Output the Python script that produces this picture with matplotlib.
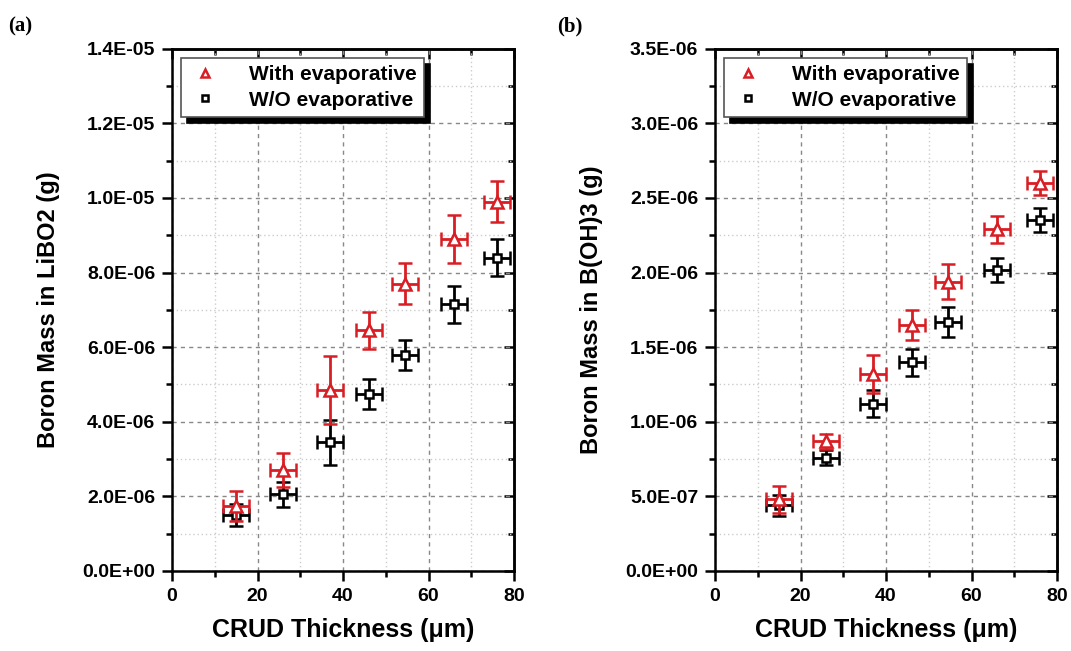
import numpy as np
import matplotlib
matplotlib.use("Agg")
import matplotlib.pyplot as plt
from matplotlib.lines import Line2D
from matplotlib.ticker import MultipleLocator, FuncFormatter

plt.rcParams['font.family'] = ['Liberation Sans', 'DejaVu Sans']
plt.rcParams['font.weight'] = 'bold'

# CRUD thickness (um) and its uncertainty
thickness = [15, 26, 37, 46, 54.5, 66, 76]
thickness_err = [3, 3, 3, 3, 3, 3, 3]

# (a) boron mass in LiBO2 (g)
libo2_with = [1.75e-6, 2.7e-6, 4.85e-6, 6.45e-6, 7.7e-6, 8.9e-6, 9.9e-6]
libo2_with_err = [0.4e-6, 0.45e-6, 0.9e-6, 0.5e-6, 0.55e-6, 0.65e-6, 0.55e-6]
libo2_wo = [1.5e-6, 2.05e-6, 3.45e-6, 4.75e-6, 5.8e-6, 7.15e-6, 8.4e-6]
libo2_wo_err = [0.3e-6, 0.33e-6, 0.6e-6, 0.4e-6, 0.4e-6, 0.5e-6, 0.5e-6]

# (b) boron mass in B(OH)3 (g)
boh3_with = [4.8e-7, 8.7e-7, 1.32e-6, 1.65e-6, 1.94e-6, 2.29e-6, 2.6e-6]
boh3_with_err = [0.9e-7, 0.5e-7, 1.3e-7, 1.0e-7, 1.2e-7, 0.9e-7, 0.8e-7]
boh3_wo = [4.4e-7, 7.6e-7, 1.12e-6, 1.4e-6, 1.67e-6, 2.02e-6, 2.35e-6]
boh3_wo_err = [0.7e-7, 0.5e-7, 0.9e-7, 0.9e-7, 1.0e-7, 0.8e-7, 0.8e-7]

labels = ['With evaporative', 'W/O evaporative']
RED = '#d81e24'


def sci_fmt(v, pos):
    s = '%.1E' % v
    mant, exp = s.split('E')
    return '%sE%s%02d' % (mant, exp[0], abs(int(exp)))


def mirror_ticks(sec, axis, step):
    sec_axis = sec.xaxis if axis == 'x' else sec.yaxis
    sec_axis.set_major_locator(MultipleLocator(step))
    sec_axis.set_minor_locator(MultipleLocator(step / 2))
    if axis == 'x':
        sec.tick_params(which='both', direction='in', width=1.8, labeltop=False)
    else:
        sec.tick_params(which='both', direction='in', width=1.8, labelright=False)
    sec.tick_params(which='major', length=7)
    sec.tick_params(which='minor', length=4)
    for sp in sec.spines.values():
        sp.set_linewidth(1.8)


def draw_panel(ax, y_with, e_with, y_wo, e_wo, ymax, ystep, ylabel):
    ax.errorbar(thickness, y_with, yerr=e_with, xerr=thickness_err, fmt='^',
                color=RED, mfc='white', mec=RED, mew=1.8, ms=8,
                elinewidth=2, capsize=5, capthick=2, zorder=4)
    ax.errorbar(thickness, y_wo, yerr=e_wo, xerr=thickness_err, fmt='s',
                color='black', mfc='white', mec='black', mew=1.8, ms=6,
                elinewidth=2, capsize=5, capthick=2, zorder=3)
    ax.set_xlim(0, 80)
    ax.set_ylim(0, ymax)
    ax.xaxis.set_major_locator(MultipleLocator(20))
    ax.xaxis.set_minor_locator(MultipleLocator(10))
    ax.yaxis.set_major_locator(MultipleLocator(ystep))
    ax.yaxis.set_minor_locator(MultipleLocator(ystep / 2))
    ax.yaxis.set_major_formatter(FuncFormatter(sci_fmt))
    ax.grid(which='major', linestyle=(0, (3, 3)), color='#888888', lw=1)
    ax.grid(which='minor', linestyle=(0, (1, 2)), color='#cccccc', lw=1)
    ax.set_axisbelow(True)
    for sp in ax.spines.values():
        sp.set_linewidth(1.8)
    ax.tick_params(which='both', direction='out', width=1.8, labelsize=14,
                   top=False, right=False, pad=5)
    ax.tick_params(which='major', length=7)
    ax.tick_params(which='minor', length=4)
    mirror_ticks(ax.secondary_xaxis('top'), 'x', 20)
    mirror_ticks(ax.secondary_yaxis('right'), 'y', ystep)
    ax.set_xlabel('CRUD Thickness (\u03bcm)', fontsize=18, fontweight='bold',
                  labelpad=10)
    ax.set_ylabel(ylabel, fontsize=17, fontweight='bold', labelpad=16)
    handles = [
        Line2D([], [], ls='none', marker='^', ms=6, mfc='white', mec=RED, mew=1.8),
        Line2D([], [], ls='none', marker='s', ms=5, mfc='white', mec='black', mew=1.8),
    ]
    leg = ax.legend(handles, labels, loc='upper left', frameon=True,
                    fancybox=False, edgecolor='#555555', framealpha=1,
                    borderaxespad=0.45, handletextpad=1.3, handlelength=1.6,
                    borderpad=0.35, labelspacing=0.3,
                    shadow={'color': 'black', 'alpha': 1, 'ox': 4, 'oy': -4},
                    prop={'weight': 'bold', 'size': 15})
    leg.get_frame().set_linewidth(1.2)


fig = plt.figure(figsize=(10.71, 6.51), dpi=100)
ax1 = fig.add_axes([0.1606, 0.123, 0.3194, 0.802])
ax2 = fig.add_axes([0.6676, 0.123, 0.3194, 0.802])

draw_panel(ax1, libo2_with, libo2_with_err, libo2_wo, libo2_wo_err,
           1.4e-5, 2e-6, 'Boron Mass in LiBO2 (g)')
draw_panel(ax2, boh3_with, boh3_with_err, boh3_wo, boh3_wo_err,
           3.5e-6, 5e-7, 'Boron Mass in B(OH)3 (g)')

fig.text(0.008, 0.975, '(a)', fontsize=15, fontweight='bold',
         family='Liberation Serif', va='top')
fig.text(0.52, 0.975, '(b)', fontsize=15, fontweight='bold',
         family='Liberation Serif', va='top')

fig.savefig('out.png', dpi=100)
